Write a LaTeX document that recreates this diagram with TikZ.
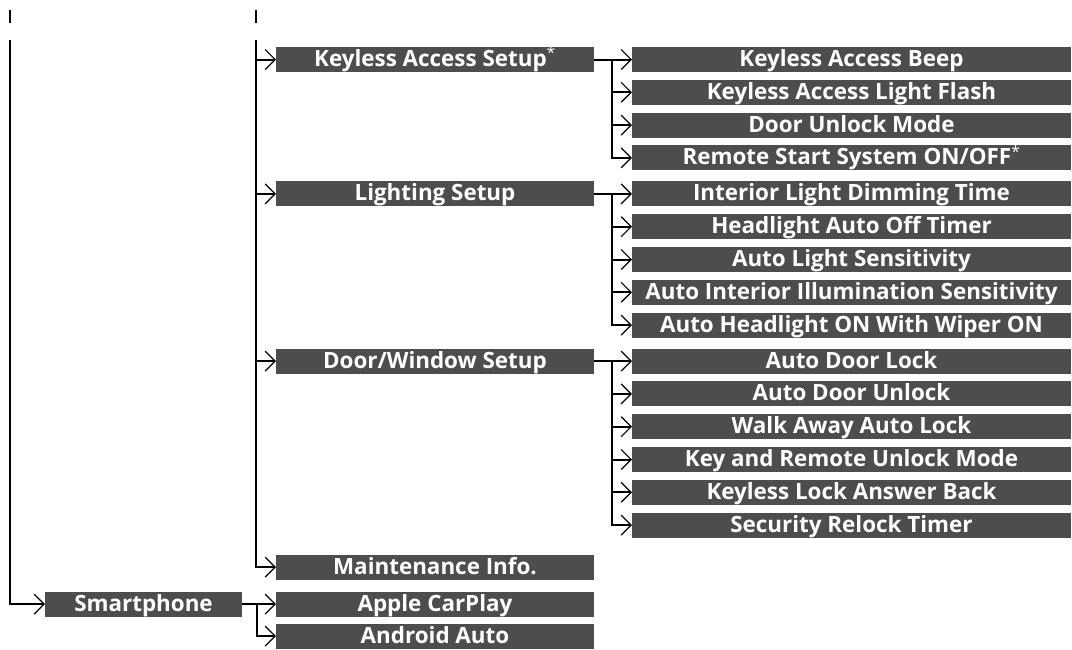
\documentclass[tikz,border=0pt]{standalone}
\usepackage{fontspec}
\setmainfont{Open Sans}
\usetikzlibrary{arrows.meta, positioning}
\definecolor{menugray}{RGB}{77,77,77}

\begin{document}
\begin{tikzpicture}[
    x=1pt, y=-1pt,
    node distance=7.8pt and 38pt,
    every node/.style={font=\fontsize{22.4}{25}\selectfont\bfseries, text=white},
    menubox/.style={rectangle, fill=menugray, inner sep=0pt, outer sep=0pt, text height=19.5pt, text depth=5.5pt, align=center},
    subbox/.style={menubox, minimum width=318pt},
    leafbox/.style={menubox, minimum width=439pt},
    link/.style={line width=2pt, ->},
    stub/.style={line width=2pt},
    >={Straight Barb[length=10pt, width=20pt, line width=1.2pt]},
]
\useasboundingbox (0,0) rectangle (1072,649);

\node[leafbox] (beep) at (851.5,59.5) {Keyless Access Beep};
\node[leafbox, below=of beep] (flash) {Keyless Access Light Flash};
\node[leafbox, below=of flash] (unlockmode) {Door Unlock Mode};
\node[leafbox, below=of unlockmode] (remote) {Remote Start System ON/OFF\textsuperscript{\mdseries*}};
\node[leafbox, below=11pt of remote] (dimming) {Interior Light Dimming Time};
\node[leafbox, below=of dimming] (autooff) {Headlight Auto Off Timer};
\node[leafbox, below=of autooff] (sensitivity) {Auto Light Sensitivity};
\node[leafbox, below=of sensitivity] (illum) {Auto Interior Illumination Sensitivity};
\node[leafbox, below=of illum] (wiper) {Auto Headlight ON With Wiper ON};
\node[leafbox, below=11pt of wiper] (doorlock) {Auto Door Lock};
\node[leafbox, below=of doorlock] (doorunlock) {Auto Door Unlock};
\node[leafbox, below=of doorunlock] (walkaway) {Walk Away Auto Lock};
\node[leafbox, below=of walkaway] (remotemode) {Key and Remote Unlock Mode};
\node[leafbox, below=of remotemode] (answerback) {Keyless Lock Answer Back};
\node[leafbox, below=of answerback] (relock) {Security Relock Timer};

\node[subbox, left=of beep] (keyless) {Keyless Access Setup\textsuperscript{\mdseries*}};
\node[subbox, left=of dimming] (lighting) {Lighting Setup};
\node[subbox, left=of doorlock] (doorwin) {Door/Window Setup};
\node[subbox, below left=17pt and 38pt of relock] (maint) {Maintenance Info.};
\node[subbox, below=12pt of maint] (carplay) {Apple CarPlay};
\node[subbox, below=7pt of carplay] (android) {Android Auto};
\node[menubox, minimum width=197pt, left=34pt of carplay] (smart) {Smartphone};

\coordinate (stubA) at (10,10);
\coordinate (stubB) at (256,10);
\coordinate (trunk) at (10,40);
\coordinate (subtrunk) at (256,40);

\draw[stub] (stubA) -- ++(0,13);
\draw[stub] (stubB) -- ++(0,13);

\draw[link] (trunk) |- (smart);
\draw[link] (subtrunk) |- (maint);
\draw[link] (subtrunk |- keyless) -- (keyless);
\draw[link] (subtrunk |- lighting) -- (lighting);
\draw[link] (subtrunk |- doorwin) -- (doorwin);

\draw[link] (keyless) -- (beep);
\foreach \leaf in {flash, unlockmode, remote}
  \draw[link] ([xshift=18pt]keyless.east) |- (\leaf);
\draw[link] (lighting) -- (dimming);
\foreach \leaf in {autooff, sensitivity, illum, wiper}
  \draw[link] ([xshift=18pt]lighting.east) |- (\leaf);
\draw[link] (doorwin) -- (doorlock);
\foreach \leaf in {doorunlock, walkaway, remotemode, answerback, relock}
  \draw[link] ([xshift=18pt]doorwin.east) |- (\leaf);
\draw[link] (smart) -- (carplay);
\draw[link] ([xshift=15pt]smart.east) |- (android);
\end{tikzpicture}
\end{document}
